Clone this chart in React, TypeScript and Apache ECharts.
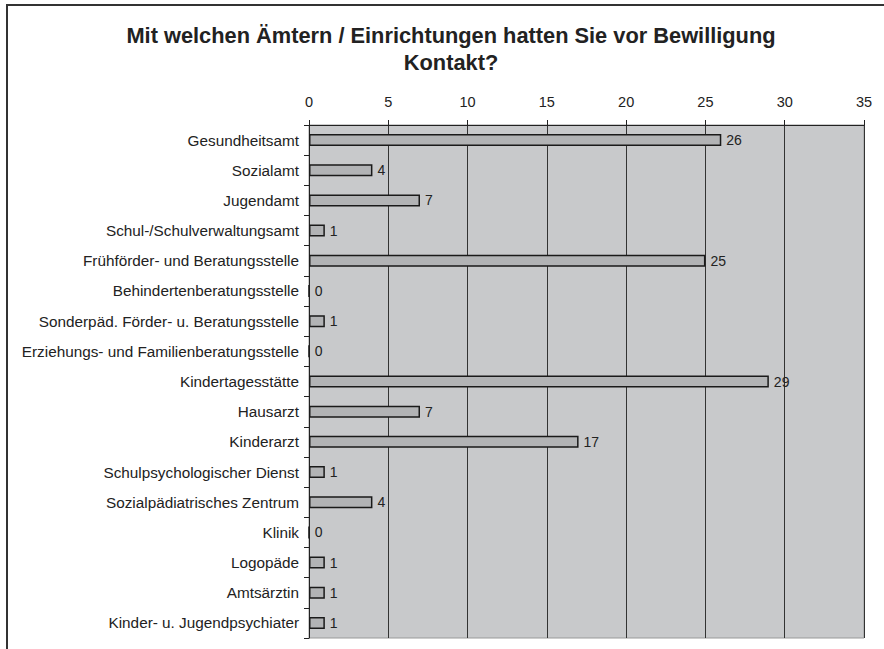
import React, { useEffect, useRef } from "react";
import * as echarts from "echarts";

const categories = [
  "Gesundheitsamt",
  "Sozialamt",
  "Jugendamt",
  "Schul-/Schulverwaltungsamt",
  "Frühförder- und Beratungsstelle",
  "Behindertenberatungsstelle",
  "Sonderpäd. Förder- u. Beratungsstelle",
  "Erziehungs- und Familienberatungsstelle",
  "Kindertagesstätte",
  "Hausarzt",
  "Kinderarzt",
  "Schulpsychologischer Dienst",
  "Sozialpädiatrisches Zentrum",
  "Klinik",
  "Logopäde",
  "Amtsärztin",
  "Kinder- u. Jugendpsychiater",
];
const values = [26, 4, 7, 1, 25, 0, 1, 0, 29, 7, 17, 1, 4, 0, 1, 1, 1];
const titleText = "Mit welchen Ämtern / Einrichtungen hatten Sie vor Bewilligung\nKontakt?";

export default function App() {
  const ref = useRef<HTMLDivElement>(null);
  useEffect(() => {
    if (!ref.current) return;
    const chart = echarts.init(ref.current, null, { renderer: "svg" });
    const font = "Liberation Sans, Arial, sans-serif";
    chart.setOption({
      animation: false,
      backgroundColor: "#ffffff",
      textStyle: { fontFamily: font },
      title: {
        text: titleText,
        left: 446,
        top: 17,
        textAlign: "center",
        textStyle: {
          fontFamily: font,
          fontSize: 21.8,
          fontWeight: "bold",
          color: "#222",
          lineHeight: 27,
        },
      },
      graphic: [
        {
          type: "polyline",
          shape: { points: [[7, 700], [7, 5], [900, 5]] },
          style: { stroke: "#333", lineWidth: 2, fill: "none" },
          silent: true,
        },
      ],
      grid: {
        left: 309,
        top: 125,
        width: 555,
        height: 513,
        show: true,
        backgroundColor: "#c8c9cb",
        borderColor: "#999",
        borderWidth: 1,
      },
      xAxis: {
        type: "value",
        position: "top",
        min: 0,
        max: 35,
        interval: 5,
        axisLine: { show: true, lineStyle: { color: "#222", width: 1 } },
        axisTick: { show: true, length: 5, lineStyle: { color: "#222" } },
        axisLabel: { fontSize: 14.5, color: "#222", margin: 16, fontFamily: font },
        splitLine: { show: true, lineStyle: { color: "#333", width: 1 } },
      },
      yAxis: {
        type: "category",
        data: categories,
        inverse: true,
        axisLine: { show: true, lineStyle: { color: "#222", width: 1 } },
        axisTick: { show: true, length: 5, lineStyle: { color: "#222" } },
        axisLabel: { fontSize: 15.3, color: "#222", margin: 10, fontFamily: font },
        splitLine: { show: false },
      },
      series: [
        {
          type: "bar",
          data: values,
          barWidth: 12,
          itemStyle: { color: "#b2b3b5", borderColor: "#1a1a1a", borderWidth: 1.5 },
          label: {
            show: true,
            position: "right",
            distance: 5,
            fontSize: 14,
            color: "#222",
            fontFamily: font,
          },
        },
      ],
    });
    return () => chart.dispose();
  }, []);
  return (
    <div
      ref={ref}
      style={{ position: "fixed", left: 0, top: 0, width: 884, height: 649 }}
    />
  );
}
